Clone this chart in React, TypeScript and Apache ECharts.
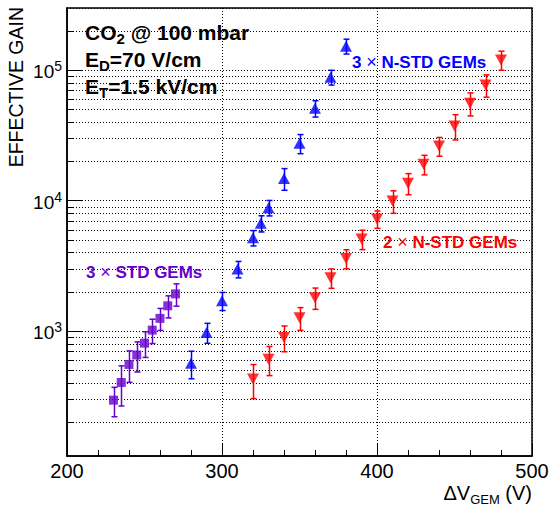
import React, { useEffect, useRef } from 'react';
import * as echarts from 'echarts';

// ---- data ----
const stdVoltage = [230, 235, 240, 245, 250, 255, 260, 265, 270];
const stdGain = [295, 403, 554, 655, 807, 1016, 1250, 1560, 1925];
const stdErr = [75, 137, 150, 170, 180, 215, 240, 300, 375];

const nstd3Voltage = [280, 290, 300, 310, 320, 325, 330, 340, 350, 360, 370, 380];
const nstd3Gain = [565, 975, 1706, 2985, 5190, 6700, 8830, 14800, 27500, 51000, 88400, 153000];
const nstd3Err = [135, 170, 270, 430, 700, 950, 1200, 2800, 4600, 7300, 11500, 20000];

const nstd2Voltage = [320, 330, 340, 350, 360, 370, 380, 390, 400, 410, 420, 430, 440, 450, 460, 470, 480];
const nstd2Gain = [428, 608, 893, 1262, 1800, 2560, 3600, 5070, 7230, 9940, 13600, 19000, 26200, 37400, 55800, 77100, 120000];
const nstd2Err = [125, 153, 200, 250, 335, 435, 600, 860, 1100, 1950, 2500, 3250, 4300, 8200, 11200, 15000, 20000];

const yMinorTicks = [
  200, 300, 400, 500, 600, 700, 800, 900,
  2000, 3000, 4000, 5000, 6000, 7000, 8000, 9000,
  20000, 30000, 40000, 50000, 60000, 70000, 80000, 90000,
  200000,
];

const xMin = 200;
const xMax = 500;
const xInterval = 100;
const yMin = 110;
const yMax = 300000;

const FONT = '"Liberation Sans", Arial, Helvetica, sans-serif';
const PURPLE = '#6600cc';
const BLUE = '#0000ff';
const RED = '#ff0000';

function errorSeries(volt: number[], gain: number[], err: number[], color: string) {
  return {
    type: 'custom',
    silent: true,
    z: 3,
    encode: { x: 0, y: 1 },
    data: volt.map((v, i) => [v, gain[i], err[i]]),
    renderItem: (params: any, api: any) => {
      const x = api.value(0);
      const y = api.value(1);
      const e = api.value(2);
      const hi = api.coord([x, y + e]);
      const lo = api.coord([x, y - e]);
      const px = Math.round(hi[0]) + 0.5;
      const cap = 3;
      const st = { stroke: color, lineWidth: 1.5 };
      return {
        type: 'group',
        children: [
          { type: 'line', shape: { x1: px, y1: hi[1], x2: px, y2: lo[1] }, style: st },
          { type: 'line', shape: { x1: px - cap, y1: hi[1], x2: px + cap, y2: hi[1] }, style: st },
          { type: 'line', shape: { x1: px - cap, y1: lo[1], x2: px + cap, y2: lo[1] }, style: st },
        ],
      };
    },
  };
}

function labelText(x: number, y: number, parts: string, rich: any, color: string) {
  return {
    type: 'text',
    x,
    y,
    z: 10,
    style: {
      text: parts,
      fill: color,
      textAlign: 'left',
      textVerticalAlign: 'middle',
      rich,
    },
  };
}

export default function App() {
  const ref = useRef<HTMLDivElement>(null);

  useEffect(() => {
    if (!ref.current) return;
    const chart = echarts.init(ref.current, null, { renderer: 'svg' });

    const infoRich = {
      a: { fontFamily: FONT, fontSize: 21, fontWeight: 'bold', color: '#000', lineHeight: 27 },
      s: { fontFamily: FONT, fontSize: 15, fontWeight: 'bold', color: '#000', lineHeight: 15, verticalAlign: 'bottom' },
    };
    const legRich = (c: string) => ({
      a: { fontFamily: FONT, fontSize: 17, fontWeight: 'bold', color: c },
      x: { fontFamily: FONT, fontSize: 18, fontWeight: 'normal', color: c },
    });

    const option: any = {
      animation: false,
      backgroundColor: '#fff',
      grid: {
        left: 67,
        right: 17,
        top: 8,
        bottom: 50,
        show: true,
        borderColor: '#000',
        borderWidth: 1.5,
        outerBoundsMode: 'none',
        containLabel: false,
      },
      xAxis: {
        type: 'value',
        min: xMin,
        max: xMax,
        interval: xInterval,
        axisLine: { show: true, lineStyle: { color: '#000', width: 1.5 } },
        axisTick: { show: true, inside: true, length: 12, lineStyle: { color: '#000', width: 1 } },
        minorTick: { show: true, splitNumber: 5, length: 6, lineStyle: { color: '#000', width: 1 } },
        axisLabel: { fontFamily: FONT, fontSize: 20, color: '#000', margin: 5 },
        splitLine: { show: true, lineStyle: { color: '#000', width: 1, type: [1, 2] } },
      },
      yAxis: {
        type: 'log',
        logBase: 10,
        min: yMin,
        max: yMax,
        axisLine: { show: true, lineStyle: { color: '#000', width: 1.5 } },
        axisTick: { show: true, inside: true, length: 15, lineStyle: { color: '#000', width: 1 } },
        axisLabel: {
          showMinLabel: false,
          showMaxLabel: false,
          margin: 5,
          formatter: (v: number) => `{b|10}{s|${Math.round(Math.log10(v))}}`,
          rich: {
            b: { fontFamily: FONT, fontSize: 19, color: '#000', lineHeight: 22, padding: [3, 0, 0, 0] },
            s: { fontFamily: FONT, fontSize: 14, color: '#000', lineHeight: 15, verticalAlign: 'top' },
          },
        },
        splitLine: { show: true, lineStyle: { color: '#000', width: 1, type: [1, 2] } },
      },
      series: [
        {
          type: 'custom',
          silent: true,
          z: 1,
          encode: { x: 0, y: 1 },
          data: yMinorTicks.map((v) => [xMin, v]),
          renderItem: (params: any, api: any) => {
            const p = api.coord([xMin, api.value(1)]);
            const cs = params.coordSys;
            const yy = Math.round(p[1]) + 0.5;
            return {
              type: 'group',
              children: [
                {
                  type: 'line',
                  shape: { x1: cs.x, y1: yy, x2: cs.x + cs.width, y2: yy },
                  style: { stroke: '#000', lineWidth: 1, lineDash: [1, 2] },
                },
                {
                  type: 'line',
                  shape: { x1: cs.x, y1: yy, x2: cs.x + 7, y2: yy },
                  style: { stroke: '#000', lineWidth: 1 },
                },
              ],
            };
          },
        },
        errorSeries(stdVoltage, stdGain, stdErr, PURPLE),
        errorSeries(nstd3Voltage, nstd3Gain, nstd3Err, BLUE),
        errorSeries(nstd2Voltage, nstd2Gain, nstd2Err, RED),
        {
          type: 'scatter',
          name: '3 x STD GEMs',
          z: 4,
          symbol: 'rect',
          symbolSize: 9,
          itemStyle: { color: PURPLE },
          data: stdVoltage.map((v, i) => [v, stdGain[i]]),
        },
        {
          type: 'scatter',
          name: '3 x N-STD GEMs',
          z: 4,
          symbol: 'triangle',
          symbolSize: [12, 11],
          itemStyle: { color: BLUE },
          data: nstd3Voltage.map((v, i) => [v, nstd3Gain[i]]),
        },
        {
          type: 'scatter',
          name: '2 x N-STD GEMs',
          z: 4,
          symbol: 'triangle',
          symbolRotate: 180,
          symbolSize: [12, 11],
          itemStyle: { color: RED },
          data: nstd2Voltage.map((v, i) => [v, nstd2Gain[i]]),
        },
      ],
      graphic: [
        labelText(85, 32, '{a|CO}{s|2}{a| @ 100 mbar}', infoRich, '#000'),
        labelText(85, 59, '{a|E}{s|D}{a|=70 V/cm}', infoRich, '#000'),
        labelText(85, 86, '{a|E}{s|T}{a|=1.5 kV/cm}', infoRich, '#000'),
        labelText(352, 62, '{a|3 }{x|×}{a| N-STD GEMs}', legRich(BLUE), BLUE),
        labelText(383, 242, '{a|2 }{x|×}{a| N-STD GEMs}', legRich(RED), RED),
        labelText(86, 272, '{a|3 }{x|×}{a| STD GEMs}', legRich(PURPLE), PURPLE),
        {
          type: 'text',
          x: 16,
          y: 7,
          rotation: Math.PI / 2,
          style: {
            text: 'EFFECTIVE GAIN',
            fill: '#000',
            font: `19.5px ${FONT}`,
            textAlign: 'right',
            textVerticalAlign: 'middle',
          },
        },
        {
          type: 'text',
          x: 532,
          y: 493,
          style: {
            text: '{a|ΔV}{s|GEM}{a| (V)}',
            textAlign: 'right',
            textVerticalAlign: 'middle',
            rich: {
              a: { fontFamily: FONT, fontSize: 20, color: '#000', lineHeight: 26 },
              s: { fontFamily: FONT, fontSize: 13, color: '#000', lineHeight: 14, verticalAlign: 'bottom' },
            },
          },
        },
      ],
    };

    chart.setOption(option);
    return () => chart.dispose();
  }, []);

  return (
    <div
      ref={ref}
      style={{ position: 'fixed', left: 0, top: 0, width: 549, height: 506, background: '#fff' }}
    />
  );
}
